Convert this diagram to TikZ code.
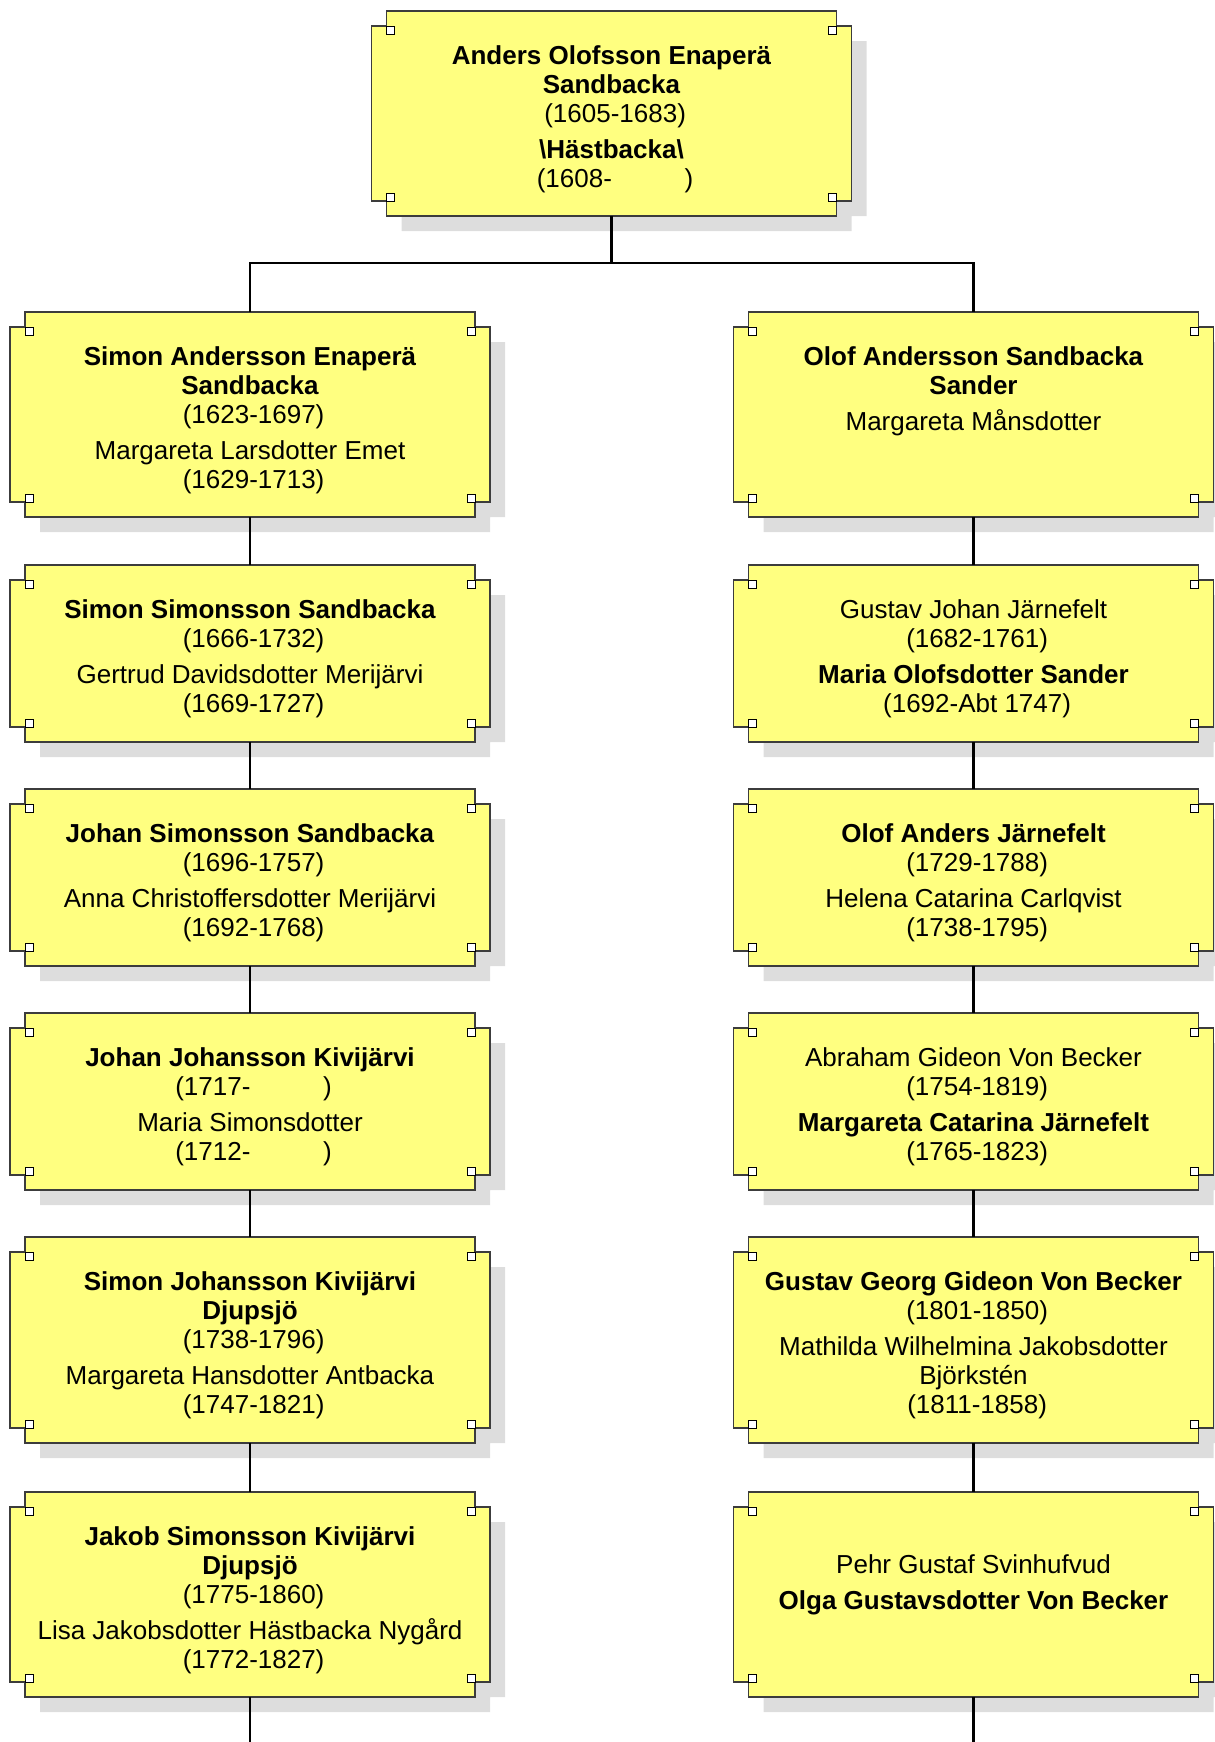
\documentclass[tikz,border=0pt]{standalone}
\usepackage{fontspec}
\setmainfont{Liberation Sans}
\definecolor{boxyellow}{RGB}{255,255,128}
\definecolor{shadowgray}{RGB}{221,221,221}
\definecolor{boxedge}{RGB}{60,60,60}
\tikzset{
  person/.style={anchor=north, align=center, inner sep=0pt, font=\fontsize{13}{14.5}\selectfont},
  link/.style={line width=1.1pt, black},
  boxline/.style={draw=boxedge, line width=0.6pt, fill=boxyellow},
  knob/.style={draw=black, line width=0.5pt, fill=white}
}
\begin{document}
\begin{tikzpicture}[x=0.5pt, y=-0.5pt, line join=miter]
  \useasboundingbox (0,0) rectangle (1215,1742);
  \clip (0,0) rectangle (1215,1742);
  % name, x, top, bottom, text offset, text
  \def\pbox#1#2#3#4#5#6{%
    \fill[shadowgray, shift={(15,15)}] (#2-225,#3) -- (#2+225,#3) -- (#2+225,#3+15) -- (#2+240,#3+15)
      -- (#2+240,#4-15) -- (#2+225,#4-15) -- (#2+225,#4) -- (#2-225,#4) -- (#2-225,#4-15)
      -- (#2-240,#4-15) -- (#2-240,#3+15) -- (#2-225,#3+15) -- cycle;
    \draw[boxline] (#2-225,#3) -- (#2+225,#3) -- (#2+225,#3+15) -- (#2+240,#3+15)
      -- (#2+240,#4-15) -- (#2+225,#4-15) -- (#2+225,#4) -- (#2-225,#4) -- (#2-225,#4-15)
      -- (#2-240,#4-15) -- (#2-240,#3+15) -- (#2-225,#3+15) -- cycle;
    \draw[knob] (#2-225,#3+15) rectangle ++(8,8) (#2+225,#3+15) rectangle ++(-8,8)
      (#2-225,#4-15) rectangle ++(8,-8) (#2+225,#4-15) rectangle ++(-8,-8);
    \node[person] (#1) at (#2,#3+#5) {#6};
    \coordinate (#1-t) at (#2,#3);
    \coordinate (#1-b) at (#2,#4);
  }
  \def\xl{250} \def\xr{973.5} % columns
  \def\gap{\\[3.75pt]}
  \def\dt#1{\hspace*{.278em}(#1)} % dates carry a leading space
  \def\nodt#1{\hspace*{.278em}(#1-\hspace{2.8em})}

  \pbox{anders}{611.5}{11}{216}{34}{\textbf{Anders Olofsson Enaperä}\\\textbf{Sandbacka}\\\dt{1605-1683}\gap
    \textbf{\textbackslash Hästbacka\textbackslash}\\\nodt{1608}}

  \pbox{simonA}{\xl}{312}{517}{34}{\textbf{Simon Andersson Enaperä}\\\textbf{Sandbacka}\\\dt{1623-1697}\gap
    Margareta Larsdotter Emet\\\dt{1629-1713}}
  \pbox{olofA}{\xr}{312}{517}{34}{\textbf{Olof Andersson Sandbacka}\\\textbf{Sander}\gap Margareta Månsdotter}

  \pbox{simonS}{\xl}{565}{742}{34}{\textbf{Simon Simonsson Sandbacka}\\\dt{1666-1732}\gap
    Gertrud Davidsdotter Merijärvi\\\dt{1669-1727}}
  \pbox{gustavJ}{\xr}{565}{742}{34}{Gustav Johan Järnefelt\\\dt{1682-1761}\gap
    \textbf{Maria Olofsdotter Sander}\\\dt{1692-Abt 1747}}

  \pbox{johanS}{\xl}{789}{966}{34}{\textbf{Johan Simonsson Sandbacka}\\\dt{1696-1757}\gap
    Anna Christoffersdotter Merijärvi\\\dt{1692-1768}}
  \pbox{olofJ}{\xr}{789}{966}{34}{\textbf{Olof Anders Järnefelt}\\\dt{1729-1788}\gap
    Helena Catarina Carlqvist\\\dt{1738-1795}}

  \pbox{johanJ}{\xl}{1013}{1190}{34}{\textbf{Johan Johansson Kivijärvi}\\\nodt{1717}\gap
    Maria Simonsdotter\\\nodt{1712}}
  \pbox{abraham}{\xr}{1013}{1190}{34}{Abraham Gideon Von Becker\\\dt{1754-1819}\gap
    \textbf{Margareta Catarina Järnefelt}\\\dt{1765-1823}}

  \pbox{simonJ}{\xl}{1237}{1443}{34}{\textbf{Simon Johansson Kivijärvi}\\\textbf{Djupsjö}\\\dt{1738-1796}\gap
    Margareta Hansdotter Antbacka\\\dt{1747-1821}}
  \pbox{gustavG}{\xr}{1237}{1443}{34}{\textbf{Gustav Georg Gideon Von Becker}\\\dt{1801-1850}\gap
    Mathilda Wilhelmina Jakobsdotter\\Björkstén\\\dt{1811-1858}}

  \pbox{jakob}{\xl}{1492}{1697}{34}{\textbf{Jakob Simonsson Kivijärvi}\\\textbf{Djupsjö}\\\dt{1775-1860}\gap
    Lisa Jakobsdotter Hästbacka Nygård\\\dt{1772-1827}}
  \pbox{pehr}{\xr}{1492}{1697}{62}{Pehr Gustaf Svinhufvud\gap\textbf{Olga Gustavsdotter Von Becker}}

  % connectors
  \coordinate (bus) at (611.5,263);
  \coordinate (endL) at (\xl,1742);
  \coordinate (endR) at (\xr,1742);
  \draw[link] (anders-b) -- (bus);
  \draw[link] (simonA-t) |- (bus) -| (olofA-t);
  \draw[link] (simonA-b) -- (simonS-t) (simonS-b) -- (johanS-t) (johanS-b) -- (johanJ-t)
    (johanJ-b) -- (simonJ-t) (simonJ-b) -- (jakob-t) (jakob-b) -- (endL);
  \draw[link] (olofA-b) -- (gustavJ-t) (gustavJ-b) -- (olofJ-t) (olofJ-b) -- (abraham-t)
    (abraham-b) -- (gustavG-t) (gustavG-b) -- (pehr-t) (pehr-b) -- (endR);
\end{tikzpicture}
\end{document}
